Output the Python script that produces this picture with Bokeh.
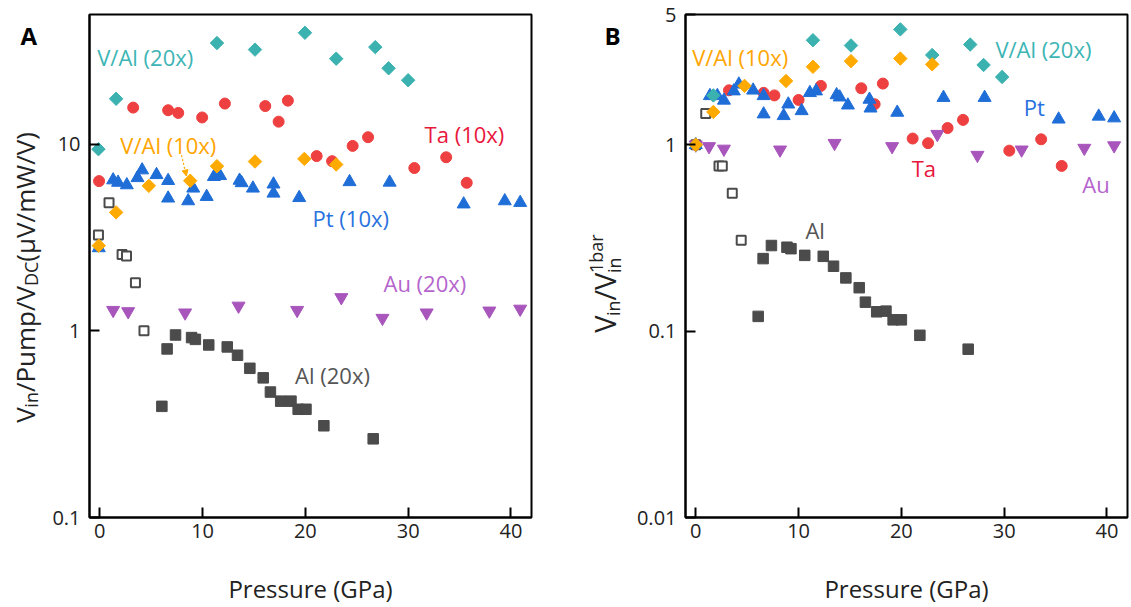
import numpy as np
from bokeh.plotting import figure
from bokeh.layouts import row
from bokeh.models import (Range1d, Label, Arrow, NormalHead, FixedTicker,
                          CustomJSTickFormatter)
from bokeh.core.properties import value
from bokeh.embed import file_html
from bokeh.resources import INLINE

FONT = "Open Sans"

# ---------------- data : panel A ----------------
a_val20_x = [-0.13, 1.59, 11.4, 15.1, 19.96, 23.0, 26.8, 28.1, 30.0]
a_val20_y = [9.4, 17.5, 34.8, 32.1, 39.5, 28.7, 33.1, 25.5, 22.0]
a_val10_x = [-0.1, 1.59, 4.77, 8.8, 11.4, 15.1, 19.9, 23.0]
a_val10_y = [2.86, 4.31, 5.98, 6.37, 7.62, 8.07, 8.34, 7.78]
a_ta_x = [-0.07, 3.25, 6.65, 7.63, 9.96, 12.17, 16.1, 17.4, 18.3, 21.1, 22.6, 24.6, 26.1, 30.6, 33.7, 35.7]
a_ta_y = [6.34, 15.7, 15.2, 14.7, 13.9, 16.5, 16.0, 13.2, 17.1, 8.63, 8.11, 9.79, 10.9, 7.45, 8.51, 6.21]
a_pt_x = [-0.1, 1.3, 1.78, 2.63, 3.67, 4.12, 5.52, 6.65, 6.65, 8.6, 9.09, 10.4, 11.1, 11.7,
          13.6, 13.8, 14.9, 16.9, 16.9, 19.4, 24.3, 28.2, 35.4, 39.4, 40.9]
a_pt_y = [2.78, 6.42, 6.23, 6.04, 6.6, 7.26, 6.85, 6.37, 5.13, 4.96, 5.8, 5.23, 6.69, 6.77,
          6.39, 6.2, 5.8, 6.1, 5.45, 5.16, 6.28, 6.24, 4.77, 4.96, 4.86]
a_au_x = [1.3, 2.76, 8.3, 13.5, 19.2, 23.5, 27.5, 31.8, 37.9, 40.9]
a_au_y = [1.29, 1.27, 1.25, 1.36, 1.29, 1.51, 1.17, 1.25, 1.28, 1.31]
a_alo_x = [-0.13, 0.9, 2.17, 2.6, 3.47, 4.3]
a_alo_y = [3.26, 4.85, 2.56, 2.52, 1.81, 1.0]
a_al_x = [6.04, 6.55, 7.37, 8.93, 9.3, 10.6, 12.4, 13.4, 14.6, 15.9, 16.6, 17.6, 18.6, 19.3, 20.06, 21.8, 26.6]
a_al_y = [0.394, 0.80, 0.95, 0.92, 0.90, 0.84, 0.82, 0.74, 0.63, 0.56, 0.47, 0.42, 0.42, 0.38, 0.38, 0.31, 0.264]

# ---------------- data : panel B ----------------
b_val20_x = [0.0, 1.71, 11.4, 15.1, 19.9, 23.0, 26.7, 28.0, 29.8]
b_val20_y = [1.0, 1.84, 3.64, 3.41, 4.16, 3.03, 3.45, 2.68, 2.31]
b_val10_x = [0.0, 1.71, 4.74, 8.78, 11.4, 15.1, 19.9, 23.0]
b_val10_y = [1.0, 1.50, 2.07, 2.20, 2.62, 2.81, 2.90, 2.70]
b_ta_x = [0.0, 3.23, 6.6, 7.65, 10.0, 12.17, 16.1, 17.4, 18.2, 21.1, 22.6, 24.5, 26.0, 30.5, 33.6, 35.6]
b_ta_y = [1.0, 1.96, 1.90, 1.84, 1.74, 2.07, 2.01, 1.65, 2.13, 1.08, 1.02, 1.23, 1.36, 0.93, 1.07, 0.77]
b_pt_x = [0.0, 1.38, 2.1, 2.74, 3.7, 4.19, 5.58, 6.6, 6.6, 8.55, 9.0, 10.3, 11.1, 11.7, 13.7, 14.0,
          14.8, 16.9, 17.0, 19.6, 24.1, 28.1, 35.3, 39.2, 40.7]
b_pt_y = [1.0, 1.83, 1.83, 1.73, 1.94, 2.11, 1.96, 1.83, 1.46, 1.43, 1.65, 1.52, 1.90, 1.94, 1.85, 1.80,
          1.63, 1.75, 1.57, 1.49, 1.79, 1.79, 1.37, 1.42, 1.39]
b_au_x = [0.0, 1.29, 2.74, 8.2, 13.5, 19.1, 23.5, 27.4, 31.7, 37.8, 40.7]
b_au_y = [1.0, 0.98, 0.95, 0.94, 1.02, 0.98, 1.14, 0.88, 0.94, 0.96, 0.99]
b_alo_x = [0.0, 0.97, 2.26, 2.58, 3.55, 4.42]
b_alo_y = [1.0, 1.47, 0.77, 0.77, 0.55, 0.307]
b_al_x = [6.07, 6.55, 7.36, 8.87, 9.26, 10.6, 12.4, 13.4, 14.6, 15.9, 16.5, 17.6, 18.5, 19.2, 20.0, 21.8, 26.5]
b_al_y = [0.12, 0.245, 0.288, 0.282, 0.277, 0.255, 0.252, 0.223, 0.193, 0.171, 0.143, 0.127, 0.128,
          0.115, 0.115, 0.095, 0.080]

x_ticks = [0, 10, 20, 30, 40]
a_y_ticks = [0.1, 1, 10]
b_y_ticks = [0.01, 0.1, 1, 5]

# series labels (text, x, y) in data coordinates
a_labels = [("V/Al (20x)", -0.25, 29.2, "teal"), ("V/Al (10x)", 2.0, 9.9, "orange"),
            ("Ta (10x)", 31.6, 11.4, "red"), ("Pt (10x)", 20.7, 4.02, "blue"),
            ("Au (20x)", 27.6, 1.81, "purple"), ("Al (20x)", 19.0, 0.58, "gray")]
b_labels = [("V/Al (10x)", -0.35, 2.96, "orange"), ("V/Al (20x)", 29.15, 3.26, "teal"),
            ("Pt", 31.9, 1.60, "blue"), ("Ta", 21.0, 0.754, "red"),
            ("Au", 37.6, 0.618, "purple"), ("Al", 10.67, 0.347, "gray")]
arrow_a = dict(x_start=7.95, y_start=8.73, x_end=8.43, y_end=6.75)

MARK = {"teal": "#3BB2B0", "red": "#EE4040", "orange": "#FFAA00", "blue": "#1F6ED8",
        "purple": "#A855BC", "gray": "#4B4B4B"}
TXT = {"teal": "#3DB5B5", "red": "#E8173C", "orange": "#FFA500", "blue": "#2872E0",
       "purple": "#B565CC", "gray": "#555555"}

# Open Sans advance widths (em)
W = {"V": .579, "i": .253, "n": .614, "/": .370, "P": .613, "u": .614, "m": .930, "p": .613,
     "D": .722, "C": .633, " ": .260, "(": .295, "μ": .617, "W": .903, ")": .295,
     "1": .572, "b": .613, "a": .556, "r": .408}


def tw(s, size):
    return sum(W.get(c, 0.6) for c in s) * size


def label_strip(width, x0, y0, pieces, letter, lx):
    """Narrow figure (no axes) holding the rotated y-axis title and the panel letter.
    Its frame is aligned with the neighbouring frame (y 14..518 of the page), so the
    y range is chosen such that y = 607 - page_y."""
    f = figure(width=width, height=607, x_range=Range1d(0, width), y_range=Range1d(89, 593),
               x_axis_type=None, y_axis_type=None, output_backend="svg", toolbar_location=None,
               min_border=0, min_border_left=0, min_border_right=0, min_border_top=0,
               min_border_bottom=0)
    f.outline_line_color = None
    f.background_fill_color = "white"
    f.border_fill_color = "white"
    y = y0
    for group in pieces:
        adv = 0
        for text, size, dx in group:
            f.text(x=[x0 + dx], y=[y], text=[text], angle=np.pi / 2,
                   text_font=value(FONT), text_font_size=f"{size}px",
                   text_baseline="alphabetic", text_align="left", text_color="#222222")
            adv = max(adv, tw(text, size))
        y += adv
    f.text(x=[lx], y=[572], text=[letter], text_font=value(FONT), text_font_size="24px",
           text_font_style="bold", text_color="black", text_baseline="middle",
           text_align="left")
    return f


def make_panel(width, bl, br, yr, yticks, series, labels):
    p = figure(width=width, height=607, x_range=Range1d(-1.0, 42.0), y_range=Range1d(*yr),
               y_axis_type="log", output_backend="svg", toolbar_location=None,
               min_border_left=bl, min_border_right=br, min_border_top=14, min_border_bottom=89)
    p.xgrid.visible = False
    p.ygrid.visible = False
    p.outline_line_color = "black"
    p.outline_line_width = 2
    p.outline_line_alpha = 1
    p.background_fill_color = "white"
    p.border_fill_color = "white"
    for ax in (p.xaxis[0], p.yaxis[0]):
        ax.axis_line_width = 2
        ax.major_tick_in = 10
        ax.major_tick_out = 0
        ax.major_tick_line_width = 2
        ax.minor_tick_line_color = None
        ax.major_label_text_font = FONT
        ax.major_label_text_font_size = "20px"
        ax.major_label_text_color = "#222222"
    p.xaxis.ticker = FixedTicker(ticks=x_ticks)
    p.yaxis.ticker = FixedTicker(ticks=yticks)
    p.yaxis.formatter = CustomJSTickFormatter(code="return String(Number(tick.toPrecision(3)));")
    p.xaxis.major_label_standoff = 6
    p.yaxis.major_label_standoff = 9
    p.xaxis.axis_label = "Pressure (GPa)"
    p.xaxis.axis_label_text_font = FONT
    p.xaxis.axis_label_text_font_size = "24px"
    p.xaxis.axis_label_text_font_style = "normal"
    p.xaxis.axis_label_text_color = "#222222"
    p.xaxis.axis_label_standoff = 31

    (alo_x, alo_y, al_x, al_y, ta_x, ta_y, au_x, au_y, pt_x, pt_y,
     v20_x, v20_y, v10_x, v10_y) = series
    p.scatter(alo_x, alo_y, marker="square", size=9, fill_color="white",
              line_color=MARK["gray"], line_width=2)
    p.scatter(al_x, al_y, marker="square", size=10.5, color=MARK["gray"])
    p.scatter(ta_x, ta_y, marker="circle", size=11, color=MARK["red"])
    p.scatter(au_x, au_y, marker="inverted_triangle", size=13, color=MARK["purple"])
    p.scatter(pt_x, pt_y, marker="triangle", size=13, color=MARK["blue"])
    p.scatter(v20_x, v20_y, marker="square", angle=np.pi / 4, size=9.5, color=MARK["teal"])
    p.scatter(v10_x, v10_y, marker="square", angle=np.pi / 4, size=9.5, color=MARK["orange"])

    for text, x, y, c in labels:
        p.add_layout(Label(x=x, y=y, text=text, text_font=FONT, text_font_size="22px",
                           text_color=TXT[c], text_baseline="middle", text_align="left"))
    return p


sA = label_strip(48, 24, 184, [[("V", 26, 0)], [("in", 18, 6)], [("/Pump/V", 26, 0)],
                              [("DC", 18, 6)], [(" (μV/mW/V)", 26, 0)]], "A", 20)
pA = make_panel(522, 41, 39, (0.1, 49.5), a_y_ticks,
                (a_alo_x, a_alo_y, a_al_x, a_al_y, a_ta_x, a_ta_y, a_au_x, a_au_y,
                 a_pt_x, a_pt_y, a_val20_x, a_val20_y, a_val10_x, a_val10_y), a_labels)
pA.add_layout(Arrow(line_color=MARK["orange"], line_dash="2 2", line_width=1.2,
                    end=NormalHead(size=6, fill_color=MARK["orange"], line_color=MARK["orange"]),
                    **arrow_a))

sB = label_strip(58, 34, 274, [[("V", 29, 0)], [("in", 18, 8)], [("/V", 29, 0)],
                              [("1bar", 18, -9), ("in", 18, 9)]], "B", 34)
pB = make_panel(503, 57, 4, (0.01, 5.0), b_y_ticks,
                (b_alo_x, b_alo_y, b_al_x, b_al_y, b_ta_x, b_ta_y, b_au_x, b_au_y,
                 b_pt_x, b_pt_y, b_val20_x, b_val20_y, b_val10_x, b_val10_y), b_labels)

layout = row(sA, pA, sB, pB)
open("out.html", "w").write(file_html(layout, INLINE))
